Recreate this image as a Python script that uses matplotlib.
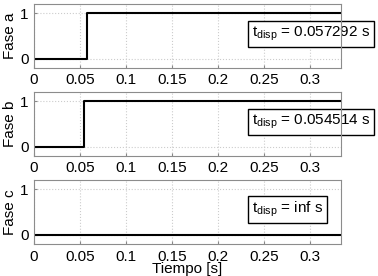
import matplotlib
matplotlib.use('Agg')
import matplotlib.pyplot as plt
import numpy as np

# tiempos de disparo por fase (s)
t_disp = [0.057292, 0.054514, np.inf]
fases = ['Fase a', 'Fase b', 'Fase c']
t_end = 1 / 3

# senales de disparo (0 -> 1 en t_disp)
tiempo_a = [0, 0.057292, 0.057292, t_end]
senal_a = [0, 0, 1, 1]
tiempo_b = [0, 0.054514, 0.054514, t_end]
senal_b = [0, 0, 1, 1]
tiempo_c = [0, t_end]
senal_c = [0, 0]

tiempos = [tiempo_a, tiempo_b, tiempo_c]
senales = [senal_a, senal_b, senal_c]
etiquetas = ['0.057292 s', '0.054514 s', 'inf s']

xticks = [0, 0.05, 0.1, 0.15, 0.2, 0.25, 0.3]
xticklabels = ['0', '0.05', '0.1', '0.15', '0.2', '0.25', '0.3']

plt.rcParams['font.family'] = ['Liberation Sans', 'DejaVu Sans']
plt.rcParams['mathtext.fontset'] = 'custom'
plt.rcParams['mathtext.rm'] = 'Liberation Sans'
plt.rcParams['mathtext.it'] = 'Liberation Sans'

fig = plt.figure(figsize=(3.78, 2.76), dpi=100)

bottoms = [0.754, 0.435, 0.116]
for i in range(3):
    ax = fig.add_axes([0.09, bottoms[i], 0.812, 0.232])
    ax.plot(tiempos[i], senales[i], color='black', lw=1.5)
    ax.set_xlim(0, t_end)
    ax.set_ylim(-0.2, 1.2)
    ax.set_xticks(xticks)
    ax.set_xticklabels(xticklabels)
    ax.set_yticks([0, 1])
    ax.tick_params(direction='in', length=2, labelsize=11, pad=4, color='#888888')
    ax.grid(True, linestyle=':', color='#cccccc', lw=0.8)
    for s in ax.spines.values():
        s.set_color('#8c8c8c')
        s.set_linewidth(0.8)
    ax.set_ylabel(fases[i], fontsize=11, labelpad=2)
    # cuadro con el tiempo de disparo (queda bajo el borde de los ejes)
    ax.text(0.2365, 0.55, r'$\mathregular{t_{disp}}$ = ' + etiquetas[i], fontsize=11,
            va='center', ha='left', clip_on=False, zorder=2,
            bbox=dict(facecolor='white', edgecolor='black', lw=1, boxstyle='square,pad=0.25'))
    if i == 2:
        ax.set_xlabel('Tiempo [s]', fontsize=11, labelpad=-1)

fig.savefig('out.png', dpi=100)
